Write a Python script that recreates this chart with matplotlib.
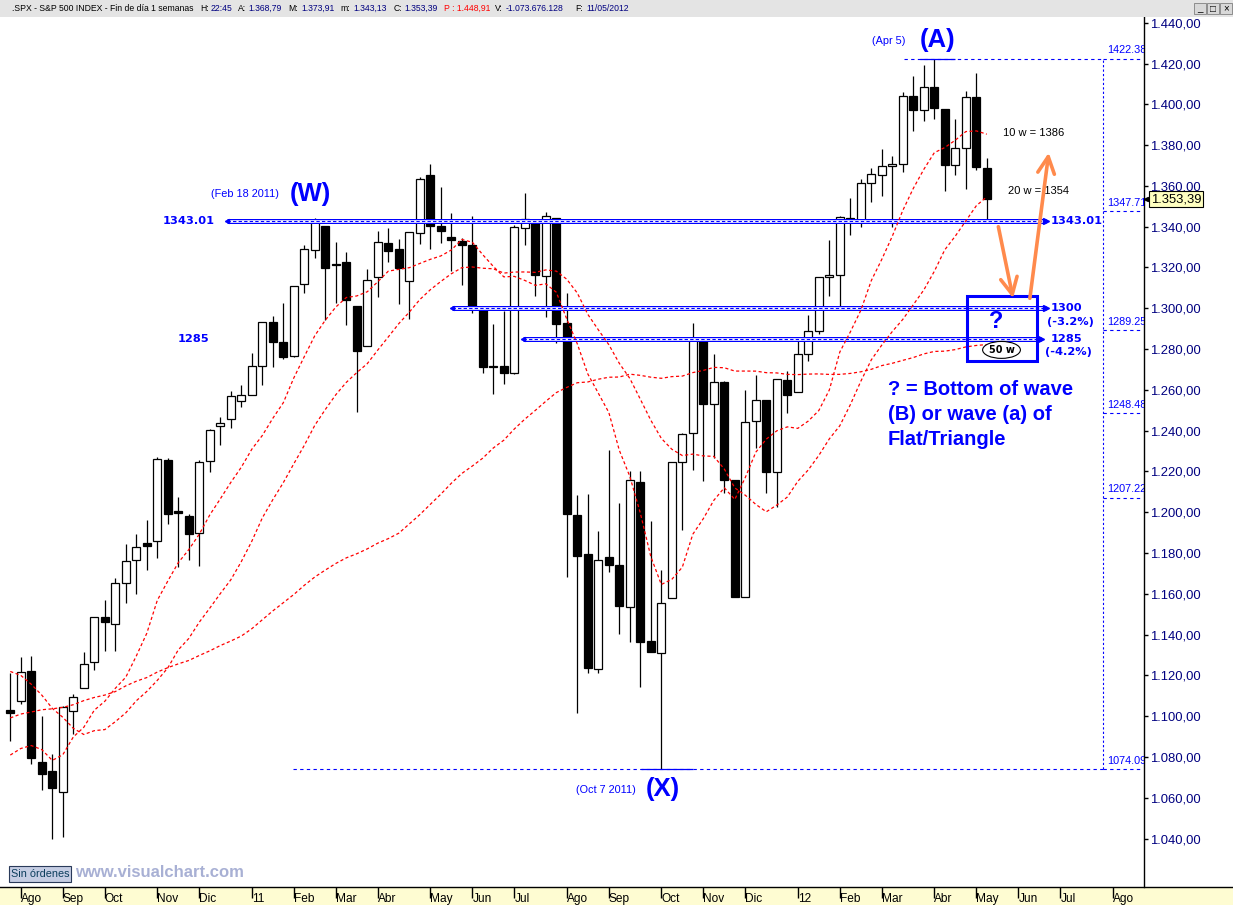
import numpy as np
import matplotlib.pyplot as plt
from matplotlib.patches import Rectangle, Ellipse
from matplotlib.lines import Line2D

plt.rcParams['font.family'] = ['Liberation Sans', 'DejaVu Sans']

# weekly S&P 500 candles, week ending 30 Jul 2010 .. 11 May 2012
opens = [1102.9, 1107.5, 1122.1, 1077.5, 1073.4, 1062.9, 1102.6, 1113.9, 1126.6, 1148.6,
         1145.0, 1165.3, 1176.8, 1184.7, 1185.7, 1225.6, 1200.5, 1198.2, 1189.8, 1225.0,
         1242.5, 1245.8, 1254.6, 1257.6, 1271.6, 1293.1, 1283.3, 1276.5, 1311.8, 1328.7,
         1340.4, 1321.8, 1322.7, 1301.2, 1281.7, 1315.5, 1332.0, 1329.0, 1313.4, 1337.1,
         1365.2, 1340.2, 1334.8, 1333.1, 1331.1, 1300.3, 1271.5, 1271.7, 1268.4, 1339.6,
         1343.3, 1315.9, 1344.3, 1292.6, 1198.5, 1179.5, 1123.2, 1177.9, 1174.0, 1153.5,
         1215.0, 1136.9, 1131.2, 1158.2, 1224.5, 1238.7, 1285.0, 1253.2, 1263.9, 1215.6,
         1158.7, 1244.6, 1255.1, 1219.7, 1265.0, 1258.9, 1277.8, 1289.1, 1315.3, 1316.2,
         1344.3, 1343.1, 1361.2, 1365.2, 1369.6, 1370.8, 1404.2, 1397.1, 1408.5, 1397.5,
         1370.3, 1378.5, 1403.6, 1368.79]
highs = [1121.0, 1129.2, 1129.5, 1100.1, 1081.6, 1105.1, 1110.9, 1131.5, 1148.9, 1157.2,
         1167.7, 1184.4, 1189.4, 1196.1, 1227.1, 1226.8, 1207.4, 1199.2, 1225.6, 1241.0,
         1246.7, 1259.4, 1262.6, 1278.2, 1293.2, 1296.1, 1302.7, 1311.0, 1330.8, 1344.1,
         1340.4, 1332.3, 1327.7, 1301.2, 1319.2, 1337.9, 1339.5, 1334.0, 1337.5, 1364.6,
         1370.6, 1359.4, 1346.8, 1334.3, 1345.2, 1300.3, 1292.5, 1298.6, 1340.7, 1356.5,
         1343.6, 1347.0, 1344.3, 1307.4, 1208.5, 1209.0, 1190.7, 1230.7, 1204.4, 1220.4,
         1220.4, 1195.9, 1171.7, 1224.6, 1239.0, 1292.7, 1285.0, 1277.6, 1264.4, 1215.6,
         1260.1, 1267.1, 1255.1, 1265.4, 1269.4, 1284.6, 1296.8, 1315.5, 1333.5, 1345.3,
         1354.3, 1363.4, 1368.9, 1378.0, 1374.8, 1405.9, 1414.0, 1419.2, 1422.4, 1397.5,
         1392.8, 1406.6, 1415.3, 1373.91]
lows = [1088.0, 1106.0, 1076.6, 1063.9, 1039.7, 1040.9, 1091.2, 1113.9, 1122.8, 1131.9,
        1131.9, 1155.7, 1159.7, 1171.7, 1177.7, 1194.1, 1173.0, 1176.6, 1173.6, 1219.6,
        1232.9, 1241.5, 1251.5, 1257.6, 1262.2, 1271.3, 1275.1, 1276.3, 1307.6, 1324.6,
        1294.3, 1302.4, 1292.0, 1249.1, 1281.7, 1305.3, 1322.9, 1302.3, 1294.7, 1331.6,
        1329.2, 1332.0, 1318.5, 1311.4, 1297.9, 1268.3, 1258.1, 1262.9, 1267.6, 1330.9,
        1306.2, 1295.9, 1282.9, 1168.1, 1101.5, 1121.1, 1121.1, 1170.6, 1140.1, 1136.2,
        1114.2, 1131.4, 1074.1, 1158.2, 1191.5, 1220.7, 1215.4, 1226.6, 1209.4, 1158.7,
        1158.7, 1231.5, 1209.5, 1202.4, 1248.6, 1258.9, 1274.3, 1287.2, 1306.1, 1300.5,
        1335.9, 1340.0, 1352.3, 1354.9, 1340.0, 1366.7, 1386.9, 1391.6, 1392.9, 1357.4,
        1365.4, 1358.6, 1368.0, 1343.13]
closes = [1101.6, 1121.6, 1079.3, 1071.7, 1064.6, 1104.5, 1109.6, 1125.6, 1148.7, 1146.2,
          1165.2, 1176.2, 1183.1, 1183.3, 1225.9, 1199.2, 1199.7, 1189.4, 1224.7, 1240.4,
          1243.9, 1256.8, 1257.6, 1271.5, 1293.2, 1283.4, 1276.3, 1310.9, 1329.2, 1343.0,
          1319.9, 1321.2, 1304.3, 1279.2, 1313.8, 1332.4, 1328.2, 1319.7, 1337.4, 1363.6,
          1340.2, 1337.8, 1333.3, 1331.1, 1300.2, 1271.0, 1271.0, 1268.5, 1339.7, 1343.8,
          1316.1, 1345.0, 1292.3, 1199.4, 1178.8, 1123.5, 1176.8, 1174.0, 1154.2, 1216.0,
          1136.4, 1131.4, 1155.5, 1224.6, 1238.3, 1285.1, 1253.2, 1263.9, 1215.7, 1158.7,
          1244.3, 1255.2, 1219.7, 1265.3, 1257.6, 1277.8, 1289.1, 1315.4, 1316.3, 1344.9,
          1342.6, 1361.2, 1365.7, 1369.6, 1370.9, 1404.2, 1397.1, 1408.5, 1398.1, 1370.3,
          1378.5, 1403.4, 1369.1, 1353.39]

# weekly closes before the first candle (needed for the moving averages)
prior_closes = [1026.13, 1028.93, 1016.40, 1042.73, 1068.30, 1044.38, 1025.21, 1071.49, 1087.68, 1079.60,
                1036.19, 1069.30, 1093.48, 1091.38, 1091.49, 1105.98, 1106.41, 1102.47, 1126.48, 1115.10,
                1144.98, 1136.03, 1091.76, 1073.87, 1066.19, 1075.51, 1109.17, 1104.49, 1138.70, 1149.99,
                1159.90, 1166.59, 1178.10, 1194.37, 1192.13, 1217.28, 1186.69, 1110.88, 1135.68, 1087.69,
                1089.41, 1064.88, 1091.60, 1117.51, 1076.76, 1022.58, 1077.96, 1064.88, 1102.66]
ma_periods = [10, 20, 50]

month_labels = ['Ago', 'Sep', 'Oct', 'Nov', 'Dic', '11', 'Feb', 'Mar', 'Abr', 'May', 'Jun', 'Jul', 'Ago',
                'Sep', 'Oct', 'Nov', 'Dic', '12', 'Feb', 'Mar', 'Abr', 'May', 'Jun', 'Jul', 'Ago']
month_weeks = [1, 5, 9, 14, 18, 23, 27, 31, 35, 40, 44, 48, 53, 57, 62, 66, 70, 75, 79, 83, 88, 92, 96, 100, 105]
price_ticks = list(range(1040, 1441, 20))

levels = [1343.01, 1300, 1285]
level_starts = [20.6, 42.1, 48.8]
level_ends = [98.6, 98.6, 98.2]
fib_levels = [1422.38, 1347.71, 1289.25, 1248.48, 1207.22, 1074.09]

volume = -1073676128
prev_level = 1448.91


def es(v, dec=2):
    s = f"{v:,.{dec}f}"
    return s.replace(',', ' ').replace('.', ',').replace(' ', '.')


W, H = 1233, 905
fig = plt.figure(figsize=(W / 100, H / 100), dpi=100)
ax = fig.add_axes([0, 18 / H, 1144 / W, 870 / H])
ax.set_xlim(-0.981, 107.97)
ax.set_ylim(1016.3, 1442.8)

n = len(closes)
x = np.arange(n)
o = np.array(opens)
c = np.array(closes)

# candles
ax.vlines(x, lows, highs, colors='black', lw=0.9, zorder=2)
body_h = np.maximum(np.abs(c - o), 0.6)
body_b = np.minimum(o, c)
face = ['white' if cc >= oo else 'black' for oo, cc in zip(o, c)]
ax.bar(x, body_h, bottom=body_b, width=0.74, color=face, edgecolor='black', linewidth=0.9, zorder=3)

# moving averages
allc = np.array(prior_closes + closes)
for p in ma_periods:
    ma = np.convolve(allc, np.ones(p) / p, mode='valid')[-n:]
    ax.plot(x, ma, color='red', lw=0.9, ls=(0, (2.5, 2)), zorder=5)

# support / resistance levels (double blue line with dashed core)
for lvl, x0, x1 in zip(levels, level_starts, level_ends):
    ax.hlines(lvl, x0, x1, colors='blue', lw=3.6, zorder=4)
    ax.hlines(lvl, x0, x1, colors='white', lw=1.9, zorder=4)
    ax.hlines(lvl, x0, x1, colors='blue', lw=0.8, linestyles=(0, (3, 2)), zorder=4)
    ax.plot([x1], [lvl], marker='>', ms=4, color='blue', zorder=4)
    ax.plot([x0], [lvl], marker='<', ms=3, color='blue', zorder=4)

# fibonacci retracement tool
fib_x = 104.1
ax.vlines(fib_x, fib_levels[-1], fib_levels[0], colors='blue', lw=0.8, linestyles=(0, (2, 2)), zorder=4)
for lv in fib_levels:
    ax.hlines(lv, fib_x, 107.6, colors='blue', lw=0.8, linestyles=(0, (3, 3)), zorder=4)
    ax.text(fib_x + 0.35, lv + 1.6, f'{lv:.2f}', color='blue', fontsize=7.8, va='bottom', clip_on=True)
ax.hlines(fib_levels[0], 85.1, fib_x, colors='blue', lw=0.8, linestyles=(0, (3, 3)), zorder=4)
ax.hlines(fib_levels[0], 86.6, 90.0, colors='blue', lw=0.9, zorder=4)
ax.hlines(fib_levels[-1], 26.9, fib_x, colors='blue', lw=0.8, linestyles=(0, (3, 3)), zorder=4)
ax.hlines(fib_levels[-1], 60.1, 65.0, colors='blue', lw=0.9, zorder=4)

# wave labels
ax.text(22.3, 1355.8, '(Feb 18 2011)', color='blue', fontsize=7.8, ha='center', va='center')
ax.text(28.6, 1356.0, '(W)', color='blue', fontsize=18.5, fontweight='bold', ha='center', va='center')
ax.text(83.7, 1431.0, '(Apr 5)', color='blue', fontsize=7.8, ha='center', va='center')
ax.text(88.3, 1431.5, '(A)', color='blue', fontsize=18.5, fontweight='bold', ha='center', va='center')
ax.text(56.7, 1063.8, '(Oct 7 2011)', color='blue', fontsize=7.8, ha='center', va='center')
ax.text(62.1, 1064.3, '(X)', color='blue', fontsize=18.5, fontweight='bold', ha='center', va='center')

# level labels
bold_small = dict(color='blue', fontsize=8.2, fontweight='bold', family='DejaVu Sans', va='center')
ax.text(19.5, levels[0], '1343.01', ha='right', **bold_small)
ax.text(15.9, levels[2], '1285', ha='left', **bold_small)
ax.text(99.1, levels[0], '1343.01', ha='left', **bold_small)
ax.text(99.1, levels[1], '1300', ha='left', **bold_small)
ax.text(98.7, 1293.4, '(-3.2%)', ha='left', **bold_small)
ax.text(99.1, levels[2], '1285', ha='left', **bold_small)
ax.text(98.5, 1278.8, '(-4.2%)', ha='left', **bold_small)

# moving average notes
ax.text(94.5, 1386, '10 w = 1386', color='black', fontsize=8, va='center')
ax.text(95.0, 1357.5, '20 w = 1354', color='black', fontsize=8, va='center')

# target box
ax.add_patch(Rectangle((91.1, 1274.2), 6.7, 31.8, fill=False, edgecolor='blue', lw=2.2, zorder=6))
ax.text(93.9, 1293.3, '?', color='blue', fontsize=17, fontweight='bold', ha='center', va='center', zorder=6)
ax.add_patch(Ellipse((94.4, 1279.6), 3.6, 8.3, facecolor='white', edgecolor='black', lw=0.8, zorder=6))
ax.text(94.4, 1279.6, '50 w', color='black', fontsize=7, fontweight='bold', family='DejaVu Sans',
        ha='center', va='center', zorder=7)

note_lines = ['? = Bottom of wave', '(B) or wave (a) of', 'Flat/Triangle']
for k, line in enumerate(note_lines):
    ax.text(83.6, 1260.0 - 12.25 * k, line, color='blue', fontsize=14.5, fontweight='bold', va='center')

# projected path
orange = '#ff8a4c'
head = '->, head_length=0.6, head_width=0.3'
ax.annotate('', xy=(95.5, 1304.9), xytext=(94.1, 1340.0),
            arrowprops=dict(arrowstyle=head, color=orange, lw=2.6, mutation_scale=20, shrinkA=0, shrinkB=0), zorder=6)
ax.annotate('', xy=(98.9, 1376.3), xytext=(97.1, 1304.9),
            arrowprops=dict(arrowstyle=head, color=orange, lw=2.6, mutation_scale=20, shrinkA=0, shrinkB=0), zorder=6)

# axes styling
for side in ['top', 'left', 'bottom']:
    ax.spines[side].set_visible(False)
ax.spines['right'].set_linewidth(1)
ax.yaxis.tick_right()
ax.set_yticks(price_ticks)
ax.set_yticklabels([es(v) for v in price_ticks])
ax.tick_params(axis='y', length=3, width=1, pad=1.5, labelsize=9.4, labelcolor='#000080')
ax.set_xticks(month_weeks)
ax.set_xticklabels(month_labels, ha='left')
ax.tick_params(axis='x', length=8, width=1, pad=-3.5, labelsize=8.6, labelcolor='black')

# last price tag
ax.text(1.006, closes[-1], es(closes[-1]), transform=ax.get_yaxis_transform(), fontsize=9.4, color='black',
        va='center', ha='left', clip_on=False, zorder=10,
        bbox=dict(boxstyle='square,pad=0.15', facecolor='#ffffc0', edgecolor='black', lw=0.8))
ax.plot([1.002], [closes[-1]], marker='<', ms=3, color='black', transform=ax.get_yaxis_transform(), clip_on=False)

# bottom date band
fig.add_artist(Rectangle((0, 0), 1, 18 / H, transform=fig.transFigure, facecolor='#fefcd2', edgecolor='none', zorder=-1))
fig.add_artist(Line2D([0, 1], [18 / H, 18 / H], transform=fig.transFigure, color='black', lw=1))
fig.add_artist(Rectangle((9 / W, (H - 882) / H), 62 / W, 16 / H, transform=fig.transFigure,
                         facecolor='#c5cde3', edgecolor='#2a3a5a', lw=0.8, zorder=5))
fig.text(40 / W, 1 - 874 / H, 'Sin órdenes', fontsize=7.8, color='#0b3d5c', ha='center', va='center', zorder=6)
fig.text(75 / W, 1 - 872 / H, 'www.visualchart.com', fontsize=12, fontweight='bold', color='#a8b0d4',
         ha='left', va='center', zorder=6)

# header bar
fig.add_artist(Rectangle((0, 1 - 17 / H), 1, 17 / H, transform=fig.transFigure, facecolor='#e4e4e4',
                         edgecolor='none', zorder=5))
navy = '#000080'
header = [('.SPX - S&P 500 INDEX - Fin de día 1 semanas', 11.7, 'black'),
          ('H:', 200, 'black'), ('22:45', 210.7, navy),
          ('A:', 237.7, 'black'), (es(opens[-1]), 248.3, navy),
          ('M:', 288.7, 'black'), (es(highs[-1]), 301.7, navy),
          ('m:', 340.7, 'black'), (es(lows[-1]), 353.3, navy),
          ('C:', 393.3, 'black'), (es(closes[-1]), 404.3, navy),
          ('P : ' + es(prev_level), 444, 'red'),
          ('V:', 494.7, 'black'), (es(volume, 0), 506, navy),
          ('F:', 575, 'black'), ('11/05/2012', 586, navy)]
for txt, px, col in header:
    fig.text(px / W, 1 - 8.5 / H, txt, fontsize=6.2, color=col, ha='left', va='center', zorder=6)
for px, glyph in zip([1194, 1207, 1220], ['_', '□', '×']):
    fig.add_artist(Rectangle((px / W, 1 - 14 / H), 12 / W, 11 / H, transform=fig.transFigure,
                             facecolor='#d8d8d8', edgecolor='#808080', lw=0.6, zorder=6))
    fig.text((px + 6) / W, 1 - 8.5 / H, glyph, fontsize=7, color='black', ha='center', va='center', zorder=7)

fig.savefig('out.png', dpi=100)
